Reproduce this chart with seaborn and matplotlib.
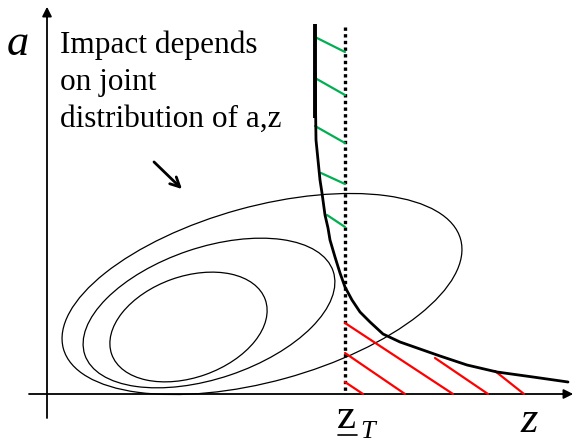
import matplotlib
matplotlib.use("Agg")
import matplotlib.pyplot as plt
from matplotlib.patches import Ellipse
import seaborn as sns
import pandas as pd

# coordonnees (pixels, y vers le bas)
curve_z = [315, 315, 316, 318, 320, 322, 325, 328, 330, 335, 340, 345, 352, 360, 370,
           383, 400, 420, 440, 467, 497, 533, 568]
curve_a = [24, 118, 140, 160, 180, 193, 215, 228, 240, 257, 273, 287, 300, 312, 322,
           334, 342, 349, 356, 365, 372, 377, 382]

green_z0 = [315, 315, 315, 321, 327]
green_a0 = [37, 78, 126, 173, 215]
green_a1 = [52, 95, 143, 184, 227]

red_z0 = [345, 345, 345, 435, 495]
red_a0 = [323, 353, 382, 358, 371]
red_z1 = [453, 405, 363, 488, 524]

ell_cx = [188.5, 209, 262]
ell_cy = [327, 313, 294]
ell_w = [163, 262, 412]
ell_h = [101, 131, 175]
ell_ang = [-19.6, -18.6, -15.4]

z_T = 345
axis_a = 394
axis_z = 47

text_lines = ["Impact depends", "on joint", "distribution of a,z"]
text_base = [53, 90, 127]

sns.set_theme(style="white")
serif = 'Liberation Serif'

fig = plt.figure(figsize=(5.76, 4.44), dpi=100)
ax = fig.add_axes([0, 0, 1, 1])
ax.set_xlim(0, 576)
ax.set_ylim(444, 0)
ax.axis('off')

# axes avec fleches
ax.plot([axis_z, axis_z], [418, 14], color='black', lw=1.3)
ax.plot([29, 566], [axis_a, axis_a], color='black', lw=1.3)
ax.annotate('', xy=(axis_z, 4), xytext=(axis_z, 20),
            arrowprops=dict(arrowstyle='-|>', color='black', lw=1.3, mutation_scale=14))
ax.annotate('', xy=(576, axis_a), xytext=(560, axis_a),
            arrowprops=dict(arrowstyle='-|>', color='black', lw=1.3, mutation_scale=14))

# ellipses de la distribution jointe
for cx, cy, w, h, ang in zip(ell_cx, ell_cy, ell_w, ell_h, ell_ang):
    ax.add_patch(Ellipse((cx, cy), w, h, angle=ang, fill=False, ec='black', lw=0.9))

# ligne pointillee z_T
ax.plot([z_T, z_T], [27, axis_a], color='black', lw=2.4, linestyle=(0, (1, 1)))

# hachures
for z0, a0, a1 in zip(green_z0, green_a0, green_a1):
    ax.plot([z0, z_T], [a0, a1], color='#00B050', lw=1.6)
for z0, a0, z1 in zip(red_z0, red_a0, red_z1):
    ax.plot([z0, z1], [a0, axis_a], color='#FF0000', lw=1.6)

# courbe frontiere
df = pd.DataFrame({'z': curve_z, 'a': curve_a})
sns.lineplot(data=df, x='z', y='a', sort=False, color='black', lw=2.0, ax=ax)
ax.plot(curve_z[:2], curve_a[:2], color='black', lw=2.8, solid_capstyle='butt')

# fleche vers les ellipses
ax.annotate('', xy=(184, 191), xytext=(152, 160),
            arrowprops=dict(arrowstyle='->', color='black', lw=2.0, mutation_scale=17))

# textes
for line, yb in zip(text_lines, text_base):
    ax.text(60, yb, line, fontsize=22.5, family=serif, color='black',
            va='baseline', ha='left')
ax.text(7, 55, 'a', fontsize=32, family=serif, style='italic', color='black',
        va='baseline', ha='left')
ax.text(337, 428, 'z', fontsize=31, family=serif, color='black',
        va='baseline', ha='left')
ax.plot([338, 357], [434.5, 434.5], color='black', lw=1.2)
ax.text(360, 438, 'T', fontsize=19, family=serif, style='italic', color='black',
        va='baseline', ha='left')
ax.text(520, 432, 'z', fontsize=32, family=serif, style='italic', color='black',
        va='baseline', ha='left')

ax.set_xlim(0, 576)
ax.set_ylim(444, 0)
fig.savefig('out.png', dpi=100)
